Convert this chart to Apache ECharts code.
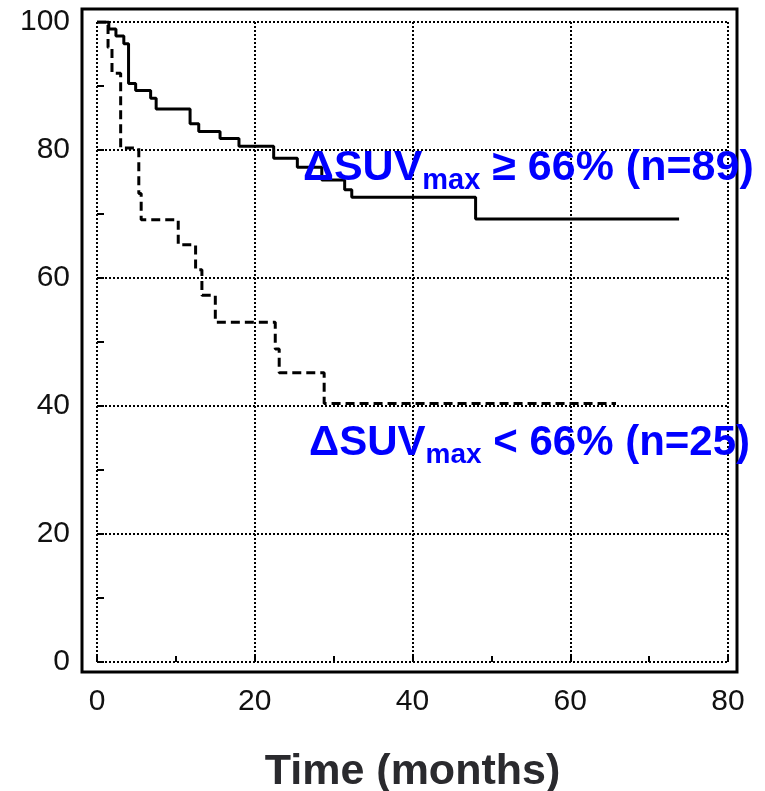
<!DOCTYPE html>
<html>
<head>
<meta charset="utf-8">
<script src="https://cdn.jsdelivr.net/npm/echarts@6/dist/echarts.min.js"></script>
<style>html,body{margin:0;padding:0;background:#fff;}#c{width:765px;height:791px;}</style>
</head>
<body>
<div id="c"></div>
<script>
// Kaplan-Meier curve: ΔSUVmax >= 66% (n=89), step points (months, survival %)
const highTime = [0, 1.5, 2.4, 3.4, 4.0, 4.9, 6.8, 7.5, 11.8, 12.9, 15.6, 18.0, 22.4, 25.4, 28.5, 31.4, 32.3, 48.0, 73.8];
const highSurv = [100, 98.9, 97.8, 96.6, 90.4, 89.3, 88.1, 86.4, 84.1, 82.9, 81.8, 80.6, 78.7, 77.3, 75.3, 73.8, 72.6, 69.2, 69.2];
// Kaplan-Meier curve: ΔSUVmax < 66% (n=25)
const lowTime = [0, 1.4, 1.9, 3.0, 5.3, 5.6, 10.3, 12.5, 13.3, 15.0, 22.6, 23.1, 28.8, 65.8];
const lowSurv = [100, 96, 92, 80.3, 73.2, 69.1, 65.2, 61.3, 57.3, 53.1, 48.9, 45.2, 40.4, 40.4];
const xTicks = [0, 20, 40, 60, 80];
const yTicks = [0, 20, 40, 60, 80, 100];
const xTitle = 'Time (months)';
const highLabel = ['ΔSUV', 'max', ' ≥ 66% (n=89)'];
const lowLabel = ['ΔSUV', 'max', ' < 66% (n=25)'];

const zip = (a, b) => a.map((v, i) => [v, b[i]]);
const chart = echarts.init(document.getElementById('c'), null, {renderer: 'canvas'});
const tickFont = "'Liberation Sans', Arial, sans-serif";
const makeRich = (big, small, pad) => ({
  a: {fontSize: big, fontWeight: 'bold', fontFamily: "'Liberation Sans', Arial, sans-serif", fill: '#0000ff', lineHeight: 50},
  b: {fontSize: small, fontWeight: 'bold', fontFamily: "'Liberation Sans', Arial, sans-serif", fill: '#0000ff', lineHeight: 30, padding: [pad, 0, 0, 0]}
});
const fmt = l => '{a|' + l[0] + '}{b|' + l[1] + '}{a|' + l[2] + '}';

chart.setOption({
  animation: false,
  backgroundColor: '#fff',
  grid: [
    {left: 97, top: 22, width: 631, height: 640, show: false, containLabel: false, outerBoundsMode: 'none'},
    {left: 82, top: 9, width: 655, height: 663, show: true, borderColor: '#000', borderWidth: 3, backgroundColor: 'transparent', containLabel: false, outerBoundsMode: 'none'}
  ],
  xAxis: [
    {
      type: 'value', gridIndex: 0, min: xTicks[0], max: xTicks[xTicks.length - 1], interval: 20,
      offset: 10,
      name: xTitle, nameLocation: 'middle', nameGap: 79,
      nameTextStyle: {fontSize: 43, fontWeight: 'bold', color: '#2a2a2e', fontFamily: tickFont},
      axisLine: {show: false},
      axisTick: {show: true, inside: true, length: 6, lineStyle: {color: '#000', width: 2}},
      minorTick: {show: true, splitNumber: 2, length: 6, lineStyle: {color: '#000', width: 2}},
      axisLabel: {fontSize: 30, color: '#111', fontFamily: tickFont, margin: 15},
      splitLine: {show: true, lineStyle: {color: '#000', width: 2, type: [2, 2]}}
    },
    {type: 'value', gridIndex: 1, show: false, min: 0, max: 1}
  ],
  yAxis: [
    {
      type: 'value', gridIndex: 0, min: yTicks[0], max: yTicks[yTicks.length - 1], interval: 20,
      offset: 15,
      axisLine: {show: false},
      axisTick: {show: true, inside: true, length: 7, lineStyle: {color: '#000', width: 2}},
      minorTick: {show: true, splitNumber: 2, length: 7, lineStyle: {color: '#000', width: 2}},
      axisLabel: {fontSize: 30, color: '#111', fontFamily: tickFont, margin: 12},
      splitLine: {show: true, lineStyle: {color: '#000', width: 2, type: [2, 2]}}
    },
    {type: 'value', gridIndex: 1, show: false, min: 0, max: 1}
  ],
  series: [
    {
      type: 'line', xAxisIndex: 0, yAxisIndex: 0, step: 'end', showSymbol: false, symbol: 'none',
      data: zip(highTime, highSurv),
      lineStyle: {color: '#000', width: 3}, z: 5
    },
    {
      type: 'line', xAxisIndex: 0, yAxisIndex: 0, step: 'end', showSymbol: false, symbol: 'none',
      data: zip(lowTime, lowSurv),
      lineStyle: {color: '#000', width: 3, type: [9, 5]}, z: 5
    }
  ],
  graphic: [
    {type: 'text', z: 100, left: 303, top: 142, style: {text: fmt(highLabel), rich: makeRich(43, 29, 24)}},
    {type: 'text', z: 100, left: 309, top: 417, style: {text: fmt(lowLabel), rich: makeRich(42, 28, 24)}}
  ]
});
</script>
</body>
</html>
